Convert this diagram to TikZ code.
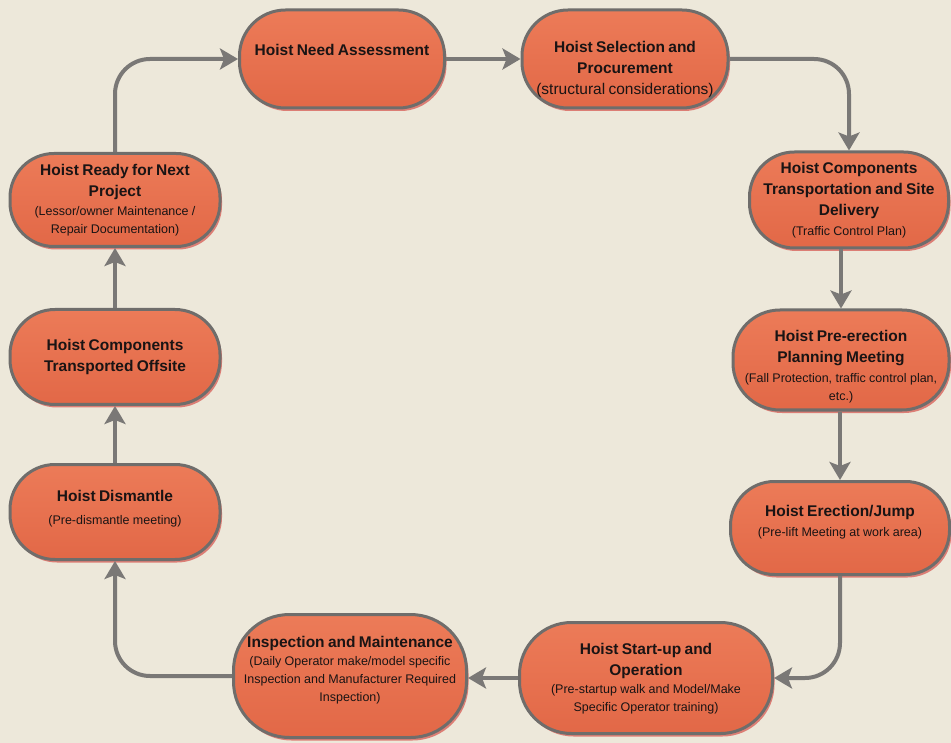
\documentclass[tikz,border=0pt]{standalone}
\usepackage{fontspec}
\setmainfont{Liberation Sans}
\usetikzlibrary{arrows.meta,shadows}
\definecolor{bg}{HTML}{EDE8DA}
\definecolor{nodetop}{HTML}{EC7B58}
\definecolor{nodebot}{HTML}{E26847}
\definecolor{edgec}{HTML}{6F6D6B}
\definecolor{arrowc}{HTML}{7A7876}
\definecolor{shad}{HTML}{D8645C}
\definecolor{txt}{HTML}{1A1414}
\newcommand{\hdfont}{\fontsize{15.5}{21}\selectfont\bfseries}
\newcommand{\subfnt}{\fontsize{12.5}{18}\selectfont\mdseries}
\begin{document}
\begin{tikzpicture}[x=1pt,y=-1pt,
  pill/.style={draw=edgec, line width=3pt, top color=nodetop, bottom color=nodebot,
    rounded corners=#1, inner sep=0pt,
    drop shadow={shadow xshift=2pt, shadow yshift=-3pt, fill=shad, opacity=0.8}},
  lbl/.style={align=center, text=txt, inner sep=0pt, text width=240pt},
  arr/.style={draw=arrowc, line width=4pt, -{Stealth[length=18pt,width=21pt,inset=4pt]}}]
\fill[bg] (0,0) rectangle (951,743);
\useasboundingbox (0,0) rectangle (951,743);
% shapes
\node[pill=46pt, minimum width=205pt, minimum height=98pt]  (n1)  at (342,59)  {};
\node[pill=46pt, minimum width=206pt, minimum height=98pt]  (n2)  at (625,59)  {};
\node[pill=45pt, minimum width=199pt, minimum height=96pt]  (n3)  at (849,200) {};
\node[pill=47pt, minimum width=216pt, minimum height=100pt] (n4)  at (841,360) {};
\node[pill=44pt, minimum width=219pt, minimum height=93pt]  (n5)  at (840,528) {};
\node[pill=52pt, minimum width=253pt, minimum height=111pt] (n6)  at (646,678) {};
\node[pill=56pt, minimum width=233pt, minimum height=123pt] (n7)  at (350,676) {};
\node[pill=45pt, minimum width=210pt, minimum height=95pt]  (n8)  at (115,512) {};
\node[pill=45pt, minimum width=210pt, minimum height=95pt]  (n9)  at (115,357) {};
\node[pill=44pt, minimum width=210pt, minimum height=93pt]  (n10) at (115,200) {};
% texts
\node[lbl] (t1) at (342,50) {\hdfont Hoist Need Assessment\par};
\node[lbl] (t2) at (625,69) {\hdfont Hoist Selection and\\Procurement\par{\mdseries (structural considerations)\par}};
\node[lbl] (t3) at (849,200) {{\hdfont Hoist Components\\Transportation and Site\\Delivery\par}\vspace{2pt}{\subfnt (Traffic Control Plan)\par}};
\node[lbl] (t4) at (841,367) {{\hdfont Hoist Pre-erection\\Planning Meeting\par}\vspace{2pt}{\subfnt (Fall Protection, traffic control plan,\\etc.)\par}};
\node[lbl] (t5) at (840,522) {{\hdfont Hoist Erection/Jump\par}\vspace{2pt}{\subfnt (Pre-lift Meeting at work area)\par}};
\node[lbl] (t6) at (646,679) {{\hdfont Hoist Start-up and\\Operation\par}{\subfnt (Pre-startup walk and Model/Make\\Specific Operator training)\par}};
\node[lbl] (t7) at (350,670) {{\hdfont Inspection and Maintenance\par}{\subfnt (Daily Operator make/model specific\\Inspection and Manufacturer Required\\Inspection)\par}};
\node[lbl] (t8) at (115,509) {{\hdfont Hoist Dismantle\par}\vspace{5pt}{\subfnt (Pre-dismantle meeting)\par}};
\node[lbl] (t9) at (115,357) {\hdfont Hoist Components\\Transported Offsite\par};
\node[lbl] (t10) at (115,200) {{\hdfont Hoist Ready for Next\\Project\par}\vspace{1pt}{\subfnt (Lessor/owner Maintenance /\\Repair Documentation)\par}};
% connectors
\draw[arr, rounded corners=35pt] (n10.north) |- (n1.west);
\draw[arr] (n1.east) -- (n2.west);
\draw[arr, rounded corners=35pt] (n2.east) -| (n3.north);
\draw[arr] (n3.south -| n4.north) -- (n4.north);
\draw[arr] (n4.south -| n5.north) -- (n5.north);
\draw[arr, rounded corners=35pt] (n5.south) |- (n6.east);
\draw[arr] (n6.west) -- (n6.west -| n7.east);
\draw[arr, rounded corners=35pt] (n7.west) -| (n8.south);
\draw[arr] (n8.north) -- (n9.south);
\draw[arr] (n9.north) -- (n10.south);
\end{tikzpicture}
\end{document}
